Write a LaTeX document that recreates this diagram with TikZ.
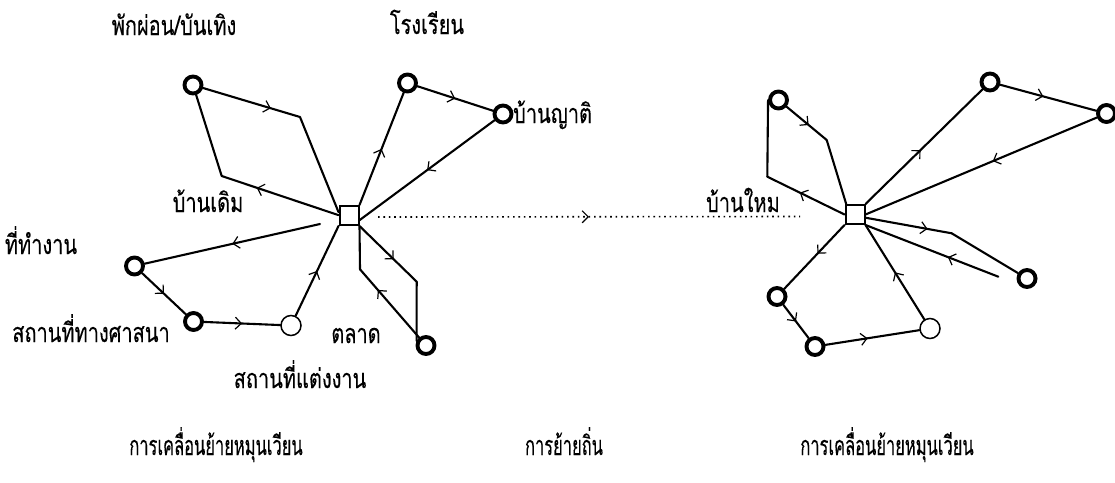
\documentclass[tikz,border=0pt]{standalone}
\usepackage{fontspec}
\newfontfamily\thai[Script=Thai,FakeStretch=0.74,FakeBold=0.25]{Loma}
\newfontfamily\thainarrow[Script=Thai,FakeStretch=0.61,FakeBold=0.2]{Loma}
\usetikzlibrary{arrows.meta,decorations.markings,calc}

\tikzset{
  hub/.style={draw, line width=2pt, minimum size=19pt, inner sep=0pt, fill=white},
  spot/.style={circle, draw, line width=3.9pt, minimum size=17pt, inner sep=0pt},
  thinspot/.style={circle, draw, line width=1.5pt, minimum size=20pt, inner sep=0pt},
  road/.style={line width=2.1pt, line cap=round},
  dotline/.style={line width=1.6pt, dash pattern=on 1.6pt off 3.8pt},
  midarr/.style={postaction={decorate, decoration={markings,
      mark=at position #1 with {\arrow{Straight Barb[length=6pt,width=12pt,line width=1.2pt]}}}}},
  lbl/.style={font=\thai\fontsize{27}{32}\selectfont, inner sep=0pt, anchor=base},
  caption/.style={font=\thainarrow\fontsize{27}{32}\selectfont, inner sep=0pt, anchor=base},
}

\begin{document}
\begin{tikzpicture}[x=1pt, y=-1pt]
\useasboundingbox (0,0) rectangle (1115,482);

% ---------- circulation around the old home ----------
\node[hub] (s1) at (349,215.5) {};
\node[spot] (a) at (193,85) {};
\node[spot] (b) at (407.5,83) {};
\node[spot] (c) at (503,114) {};
\node[spot] (d) at (134.5,266) {};
\node[spot] (e) at (193.5,321.5) {};
\node[thinspot] (f) at (291,325.5) {};
\node[spot] (g) at (426,345.5) {};
\coordinate (p1) at (300,117);
\coordinate (p2) at (221.7,176);
\coordinate (p3) at (416.7,281.7);
\coordinate (p4) at (360,269.3);
\coordinate (w1) at (320,224);

\draw[road, midarr=0.7] (a) -- (p1);
\draw[road] (p1) -- (s1.162);
\draw[road, midarr=0.7] (s1.178) -- (p2);
\draw[road] (p2) -- (a);
\draw[road, midarr=0.5] (s1.north east) -- (b);
\draw[road, midarr=0.5] (b) -- (c);
\draw[road, midarr=0.5] (c) -- (s1.-24);
\draw[road, midarr=0.5] (w1) -- (d);
\draw[road, midarr=0.5] (d) -- (e);
\draw[road, midarr=0.5] (e) -- (f);
\draw[road, midarr=0.5] (f) -- (s1.south west);
\draw[road, midarr=0.6] (s1.south east) -- (p3);
\draw[road] (p3) -- (g.154);
\draw[road, midarr=0.7] (g) -- (p4);
\draw[road] (p4) -- (s1.south east);

\node[lbl] (la) at (174,35) {พักผ่อน/บันเทิง};
\node[lbl] (lb) at (427,34) {โรงเรียน};
\node[lbl, anchor=base west] (lc) at (513,123) {บ้านญาติ};
\node[lbl] (ls1) at (208,212) {บ้านเดิม};
\node[lbl] (ld) at (41,254) {ที่ทำงาน};
\node[lbl] (le) at (91,342) {สถานที่ทางศาสนา};
\node[lbl] (lg) at (356,343) {ตลาด};
\node[lbl] (lf) at (300,388) {สถานที่แต่งงาน};

% ---------- migration ----------
\coordinate (d1) at (378,217);
\coordinate (d2) at (800,216.5);
\draw[dotline, midarr=0.5] (d1) -- (d2);

% ---------- circulation around the new home ----------
\node[hub] (s2) at (855,214.5) {};
\node[spot] (h) at (778.5,100) {};
\node[spot] (i) at (990,82) {};
\node[spot] (j) at (1106.5,113.5) {};
\node[spot] (k) at (1027,278.5) {};
\node[spot] (l) at (777,296.5) {};
\node[spot] (m) at (815,346.5) {};
\node[thinspot] (n) at (930,328.5) {};
\coordinate (p5) at (826.7,140);
\coordinate (p6) at (767.3,176.7);
\coordinate (p7) at (951.7,233.3);
\coordinate (w2) at (998.3,276.7);

\draw[road, midarr=0.55] (h) -- (p5);
\draw[road] (p5) -- (s2.130);
\draw[road, midarr=0.58] (s2.west) -- (p6);
\draw[road] (p6) -- (h.west);
\draw[road, midarr=0.47] (s2.north east) -- (i);
\draw[road, midarr=0.45] (i) -- (j);
\draw[road, midarr=0.45] (j) -- (s2.east);
\draw[road, midarr=0.72] (s2.-17) -- (p7);
\draw[road] (p7) -- (k);
\draw[road, midarr=0.38] (w2) -- (s2.south east);
\draw[road, midarr=0.45] (s2.south west) -- (l);
\draw[road, midarr=0.5] (l) -- (m);
\draw[road, midarr=0.45] (m) -- (n);
\draw[road, midarr=0.5] (n) -- (s2.south east);

\node[lbl] (ls2) at (743,212) {บ้านใหม};

% ---------- captions ----------
\node[caption] (c1) at (216,455) {การเคลื่อนย้ายหมุนเวียน};
\node[caption] (c2) at (564,455) {การย้ายถิ่น};
\node[caption] (c3) at (887,455) {การเคลื่อนย้ายหมุนเวียน};
\end{tikzpicture}
\end{document}
